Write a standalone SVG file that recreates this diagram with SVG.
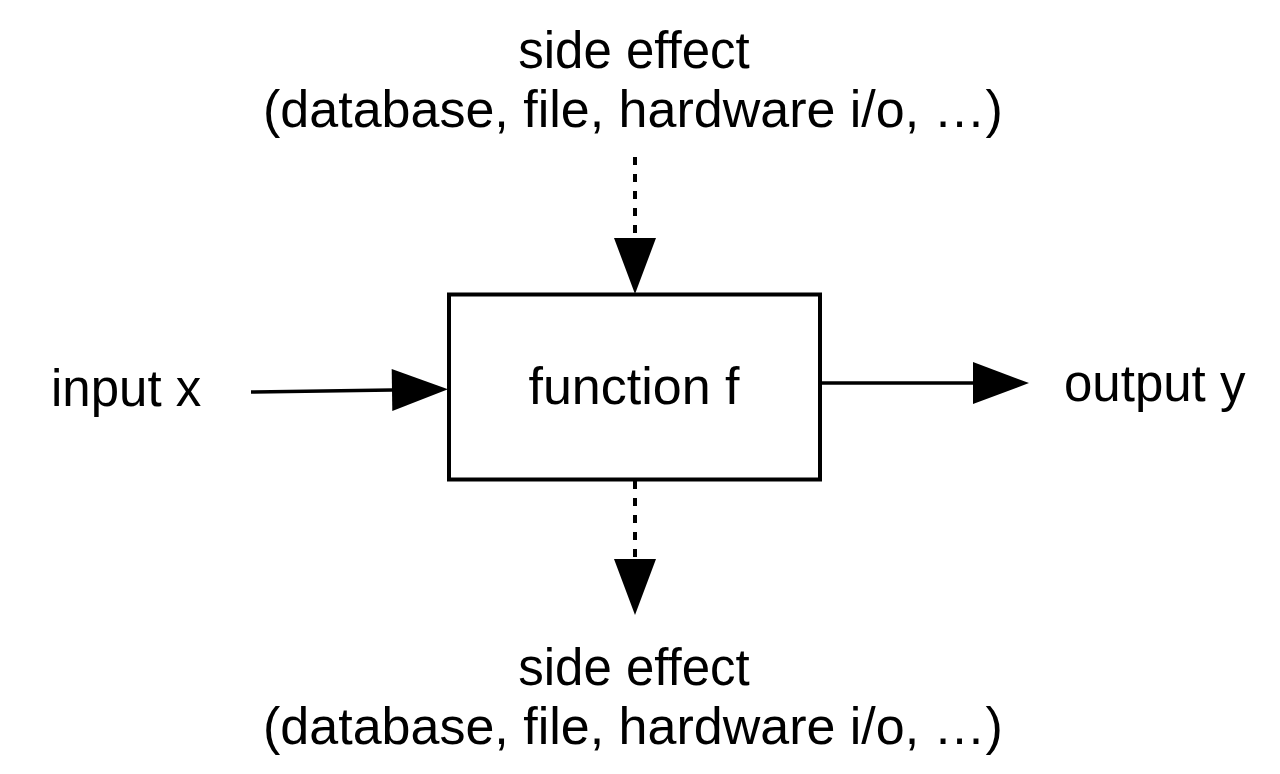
<svg xmlns="http://www.w3.org/2000/svg" width="1280" height="774" viewBox="0 0 1280 774">
  <style>
    text { font-family: "Liberation Sans", Arial, Helvetica, sans-serif; font-size: 51px; fill: #000; }
    .wide { font-size: 52px; }
    .box { fill: #fff; stroke: #000; stroke-width: 4; }
    .conn { fill: none; stroke: #000; stroke-width: 3.5; }
    .dashed { stroke-width: 4; stroke-dasharray: 8 9; }
  </style>
  <defs>
    <marker id="arrow" markerUnits="userSpaceOnUse" markerWidth="58" markerHeight="44" refX="0" refY="21" orient="auto" overflow="visible">
      <path d="M0,0 L56,21 L0,42 Z" fill="#000"/>
    </marker>
  </defs>
  <rect width="1280" height="774" fill="#fff"/>

  <g id="connectors">
    <line class="conn" x1="251" y1="392" x2="392" y2="390" marker-end="url(#arrow)"/>
    <line class="conn" x1="820" y1="383" x2="973" y2="383" marker-end="url(#arrow)"/>
    <line class="conn dashed" x1="635" y1="157" x2="635" y2="238" marker-end="url(#arrow)"/>
    <line class="conn dashed" x1="635" y1="481" x2="635" y2="559" marker-end="url(#arrow)"/>
  </g>

  <g id="function-f">
    <rect class="box" x="449" y="294.5" width="371" height="185"/>
    <text class="wide" x="634" y="404" text-anchor="middle">function f</text>
  </g>

  <g id="input-x">
    <text x="51" y="406">input x</text>
  </g>

  <g id="output-y">
    <text x="1064" y="401">output y</text>
  </g>

  <g id="side-effect-top">
    <text x="634" y="68" text-anchor="middle">side effect</text>
    <text class="wide" x="633" y="127" text-anchor="middle">(database, file, hardware i/o, …)</text>
  </g>

  <g id="side-effect-bottom">
    <text x="634" y="685" text-anchor="middle">side effect</text>
    <text class="wide" x="633" y="744" text-anchor="middle">(database, file, hardware i/o, …)</text>
  </g>
</svg>
